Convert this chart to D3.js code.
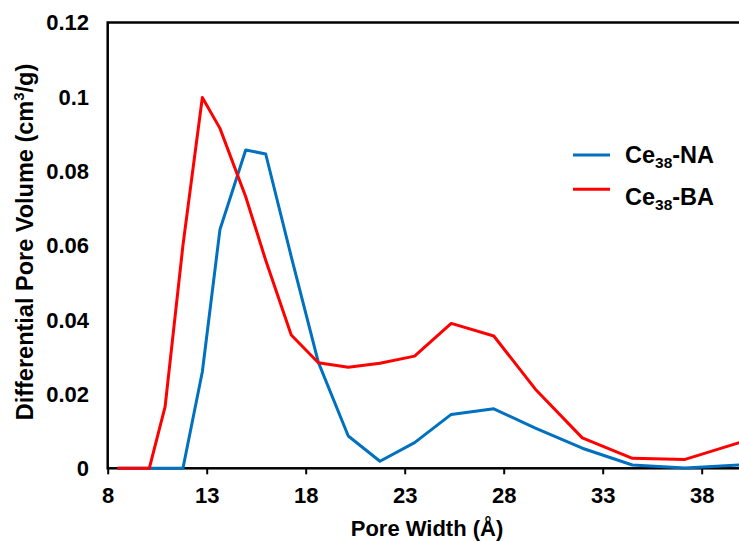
<!DOCTYPE html>
<html>
<head>
<meta charset="utf-8">
<script src="https://cdn.jsdelivr.net/npm/d3@7"></script>
<style>
  body { margin: 0; background: #fff; }
  svg { display: block; font-family: "Liberation Sans", Arial, sans-serif; font-weight: bold; }
</style>
</head>
<body>
<div id="chart"></div>
<script>
'use strict';

// pore width (Å)
var poreWidth = [8.5, 10.1, 10.9, 11.8, 12.78, 13.67, 14.97, 15.98, 17.27, 18.64,
                 20.15, 21.75, 23.5, 25.35, 27.5, 29.6, 31.97, 34.5, 37.16, 39.9];
// differential pore volume (cm3/g)
var ce38NA = [0, 0, 0, 0, 0.026, 0.0643, 0.0857, 0.0846, 0.057, 0.0285,
              0.0087, 0.0019, 0.0069, 0.0145, 0.016, 0.0108, 0.0054, 0.0009, 0.0001, 0.0009];
var ce38BA = [0, 0, 0.0166, 0.060, 0.0998, 0.0915, 0.0731, 0.056, 0.0359, 0.0284,
              0.0272, 0.0283, 0.0302, 0.039, 0.0356, 0.0213, 0.0082, 0.0027, 0.0024, 0.0069];
var xTicks = [8, 13, 18, 23, 28, 33, 38];
var yTicks = [0, 0.02, 0.04, 0.06, 0.08, 0.1, 0.12];

var series = [
  { name: 'NA', values: ce38NA, color: '#0070C0' },
  { name: 'BA', values: ce38BA, color: '#FF0000' }
];

var width = 739, height = 542;

var svg = d3.select('#chart')
    .append('svg')
    .attr('width', width)
    .attr('height', height);

var x = d3.scaleLinear().domain([8, 40]).range([107.7, 741.3]);
var y = d3.scaleLinear().domain([0, 0.12]).range([468.3, 22.5]);

// plot frame (right side falls outside the picture)
svg.append('rect')
    .attr('x', x(8))
    .attr('y', y(0.12))
    .attr('width', x(40) - x(8) + 10)
    .attr('height', y(0) - y(0.12))
    .attr('fill', 'none')
    .attr('stroke', '#000')
    .attr('stroke-width', 2.5);

// y tick labels (no tick marks)
svg.append('g')
    .selectAll('text')
    .data(yTicks)
    .enter()
    .append('text')
    .attr('x', 89)
    .attr('y', function (d) { return y(d); })
    .attr('dy', '0.36em')
    .attr('text-anchor', 'end')
    .attr('font-size', 22)
    .text(function (d) { return d3.format('~g')(d); });

// x axis
var xAxis = svg.append('g')
    .attr('transform', 'translate(0,' + y(0) + ')')
    .call(d3.axisBottom(x).tickValues(xTicks).tickSize(6).tickPadding(13).tickSizeOuter(0));
xAxis.select('.domain').remove();
xAxis.selectAll('line').attr('stroke', '#000').attr('stroke-width', 2);
xAxis.selectAll('text')
    .attr('font-size', 22)
    .attr('font-family', '"Liberation Sans", Arial, sans-serif')
    .attr('font-weight', 'bold')
    .attr('fill', '#000');

// lines
var line = d3.line()
    .x(function (d, i) { return x(poreWidth[i]); })
    .y(function (d) { return y(d); });

svg.append('g')
    .selectAll('path')
    .data(series)
    .enter()
    .append('path')
    .attr('d', function (d) { return line(d.values); })
    .attr('fill', 'none')
    .attr('stroke', function (d) { return d.color; })
    .attr('stroke-width', 3)
    .attr('stroke-linejoin', 'round');

// axis titles
svg.append('text')
    .attr('x', 427)
    .attr('y', 536)
    .attr('text-anchor', 'middle')
    .attr('font-size', 22)
    .text('Pore Width (Å)');

var yTitle = svg.append('text')
    .attr('transform', 'translate(33,242) rotate(-90)')
    .attr('text-anchor', 'middle')
    .attr('font-size', 23.5)
    .text('Differential Pore Volume (cm');
yTitle.append('tspan').attr('font-size', 15).attr('dy', -9).text('3');
yTitle.append('tspan').attr('dy', 9).text('/g)');

// legend
var legend = svg.append('g')
    .selectAll('g')
    .data(series)
    .enter()
    .append('g')
    .attr('transform', function (d, i) { return 'translate(573,' + (155 + i * 34.3) + ')'; });

legend.append('line')
    .attr('x1', 0).attr('x2', 37)
    .attr('stroke', function (d) { return d.color; })
    .attr('stroke-width', 3);

var label = legend.append('text')
    .attr('x', 52)
    .attr('y', function (d, i) { return 8.3 + i * 7; })
    .attr('font-size', 23.5)
    .text('Ce');
label.append('tspan').attr('font-size', 15.5).attr('dy', 5).text('38');
label.append('tspan').attr('dy', -5).text(function (d) { return '-' + d.name; });
</script>
</body>
</html>
